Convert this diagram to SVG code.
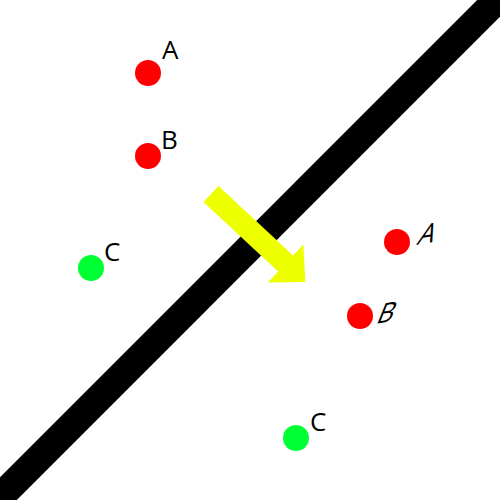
<svg xmlns="http://www.w3.org/2000/svg" width="500" height="500" viewBox="0 0 500 500">
<style>
.red{fill:#ff0000}
.green{fill:#00ff33}
.lbl{font-family:"Open Sans","DejaVu Sans",sans-serif;font-size:26px;fill:#000}
</style>
<rect width="500" height="500" fill="#fff"/>
<g id="mirror">
<line x1="-20" y1="517" x2="517" y2="-20" stroke="#000" stroke-width="28"/>
</g>
<g id="connectors">
<polygon fill="#eeff00" transform="translate(211,194) rotate(43)" points="0,-11 102,-11 102,-26 129,0 102,26 102,11 0,11"/>
</g>
<g id="A1"><circle class="red" cx="148" cy="73" r="13"/><text class="lbl" x="162" y="59">A</text></g>
<g id="B1"><circle class="red" cx="148" cy="156" r="13"/><text class="lbl" x="161" y="149">B</text></g>
<g id="C1"><circle class="green" cx="91" cy="268" r="13"/><text class="lbl" x="104" y="261">C</text></g>
<g id="A2"><circle class="red" cx="397" cy="242" r="13"/><text class="lbl" transform="translate(416,245) rotate(-10) skewX(-32)">A</text></g>
<g id="B2"><circle class="red" cx="360" cy="316" r="13"/><text class="lbl" transform="translate(375,324) rotate(-10) skewX(-32)">B</text></g>
<g id="C2"><circle class="green" cx="296" cy="438" r="13"/><text class="lbl" x="310" y="431">C</text></g>
</svg>
